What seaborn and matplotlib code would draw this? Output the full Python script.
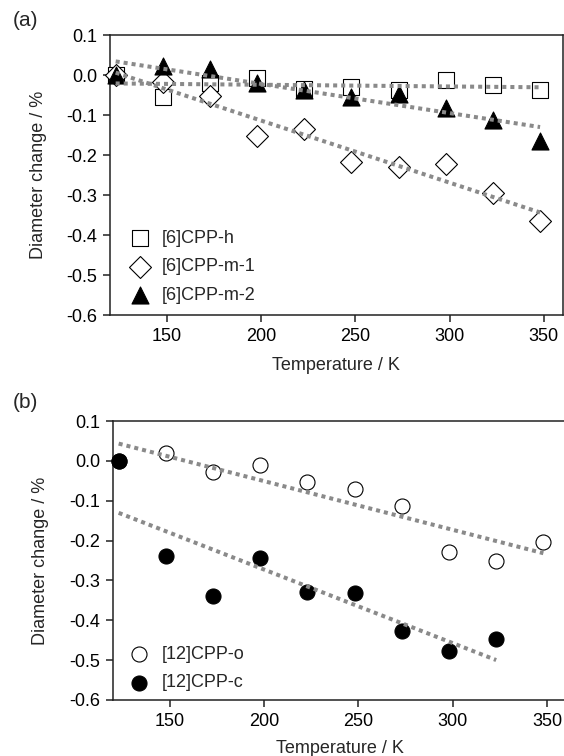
import matplotlib
matplotlib.use("Agg")
import matplotlib.pyplot as plt
import matplotlib.ticker as mticker
import seaborn as sns

# temperatures (K)
temps_a = [123, 148, 173, 198, 223, 248, 273, 298, 323, 348]
temps_b_o = [123, 148, 173, 198, 223, 248, 273, 298, 323, 348]
temps_b_c = [123, 148, 173, 198, 223, 248, 273, 298, 323]

# (a) diameter change / %
cpp6_h = [0.0, -0.054, -0.020, -0.007, -0.036, -0.031, -0.037, -0.012, -0.025, -0.037]
cpp6_m1 = [0.0, -0.017, -0.052, -0.153, -0.135, -0.217, -0.231, -0.223, -0.296, -0.365]
cpp6_m2 = [0.0, 0.022, 0.015, -0.020, -0.037, -0.054, -0.048, -0.082, -0.112, -0.165]

# (b) diameter change / %
cpp12_o = [0.0, 0.019, -0.029, -0.011, -0.054, -0.071, -0.113, -0.228, -0.252, -0.203]
cpp12_c = [0.0, -0.239, -0.340, -0.244, -0.328, -0.332, -0.428, -0.477, -0.448]

y_ticks = [0.1, 0.0, -0.1, -0.2, -0.3, -0.4, -0.5, -0.6]
x_ticks = [150, 200, 250, 300, 350]

sns.set_style("ticks")
plt.rcParams["font.family"] = ["Liberation Sans", "DejaVu Sans"]
plt.rcParams["axes.unicode_minus"] = False

FS = 13
TREND = "#8a8a8a"
line_kws = dict(color=TREND, lw=2.9, linestyle=(0, (1, 1)), dash_capstyle="butt",
                zorder=5)

fig = plt.figure(figsize=(5.64, 7.56), dpi=100)
ax_a = fig.add_axes([110 / 564, 1 - 315 / 756, 452.7 / 564, 280 / 756])
ax_b = fig.add_axes([113 / 564, 1 - 700 / 756, 453 / 564, 279 / 756])

mk = dict(edgecolor="black", linewidth=0.8, clip_on=False, zorder=3)

# panel (a)
sns.scatterplot(x=temps_a, y=cpp6_h, ax=ax_a, marker="s", s=121, facecolor="white",
                label="[6]CPP-h", **mk)
sns.scatterplot(x=temps_a, y=cpp6_m1, ax=ax_a, marker="D", s=125, facecolor="white",
                label="[6]CPP-m-1", **mk)
sns.scatterplot(x=temps_a, y=cpp6_m2, ax=ax_a, marker="^", s=150, facecolor="black",
                label="[6]CPP-m-2", **mk)
for ys in (cpp6_h, cpp6_m1, cpp6_m2):
    sns.regplot(x=temps_a, y=ys, ax=ax_a, scatter=False, ci=None, truncate=True,
                line_kws=line_kws)

# panel (b)
sns.scatterplot(x=temps_b_o, y=cpp12_o, ax=ax_b, marker="o", s=117, facecolor="white",
                label="[12]CPP-o", **mk)
sns.scatterplot(x=temps_b_c, y=cpp12_c, ax=ax_b, marker="o", s=117, facecolor="black",
                label="[12]CPP-c", **mk)
for xs, ys in ((temps_b_o, cpp12_o), (temps_b_c, cpp12_c)):
    sns.regplot(x=xs, y=ys, ax=ax_b, scatter=False, ci=None, truncate=True,
                line_kws=line_kws)

for ax in (ax_a, ax_b):
    ax.set_xlim(120, 360)
    ax.set_ylim(-0.6, 0.1)
    ax.set_xticks(x_ticks)
    ax.set_yticks(y_ticks)
    ax.yaxis.set_major_formatter(mticker.FormatStrFormatter("%.1f"))
    ax.tick_params(direction="out", length=5, width=1.1, labelsize=FS, pad=4,
                   color="#222222", labelcolor="black")
    for sp in ax.spines.values():
        sp.set_linewidth(1.1)
        sp.set_color("#222222")
    ax.set_xlabel("Temperature / K", fontsize=FS)
    ax.set_ylabel("Diameter change / %", fontsize=FS)

ax_a.yaxis.set_label_coords(-0.139, 0.5)
ax_b.yaxis.set_label_coords(-0.141, 0.5)
ax_a.xaxis.set_label_coords(0.5, -0.15)
ax_b.xaxis.set_label_coords(0.5, -0.143)

ax_a.legend(loc="upper left", bbox_to_anchor=(0.046, 0.304), frameon=False,
            fontsize=FS, handlelength=1.0, handletextpad=0.72, labelspacing=0.63,
            borderpad=0, borderaxespad=0)
ax_b.legend(loc="upper left", bbox_to_anchor=(0.038, 0.194), frameon=False,
            fontsize=FS, handlelength=1.0, handletextpad=0.72, labelspacing=0.63,
            borderpad=0, borderaxespad=0)

fig.text(13 / 564, 1 - 20 / 756, "(a)", fontsize=15, ha="left", va="center")
fig.text(13 / 564, 1 - 403 / 756, "(b)", fontsize=15, ha="left", va="center")

fig.savefig("out.png", dpi=100)
plt.close(fig)
